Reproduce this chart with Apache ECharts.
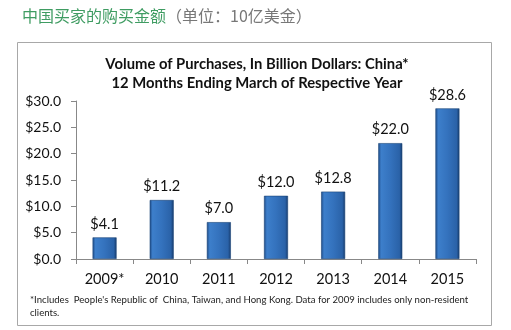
<!DOCTYPE html>
<html>
<head>
<meta charset="utf-8">
<script src="https://cdn.jsdelivr.net/npm/echarts@6/dist/echarts.min.js"></script>
<style>
  html, body { margin: 0; padding: 0; background: #fff; }
  #chart { width: 511px; height: 330px; }
</style>
</head>
<body>
<div id="chart"></div>
<script>
// Chinese buyers' purchase volume, billions of US dollars
const years = ['2009*', '2010', '2011', '2012', '2013', '2014', '2015'];
const volumes = [4.1, 11.2, 7.0, 12.0, 12.8, 22.0, 28.6];
const yTicks = { min: 0, max: 30, interval: 5 };

const chart = echarts.init(document.getElementById('chart'), null, { renderer: 'canvas' });

const font = 'Lato, "Open Sans", "Liberation Sans", sans-serif';
const cjk = '"Noto Sans CJK SC", sans-serif';

const barFill = new echarts.graphic.LinearGradient(0, 0, 1, 0, [
  { offset: 0, color: '#1d4a86' },
  { offset: 0.12, color: '#3d7fcb' },
  { offset: 0.5, color: '#3472bd' },
  { offset: 0.88, color: '#2a62a8' },
  { offset: 1, color: '#163a6b' }
]);

chart.setOption({
  backgroundColor: '#ffffff',
  animation: false,
  title: {
    text: 'Volume of Purchases, In Billion Dollars: China*\n12 Months Ending March of Respective Year',
    left: 252,
    top: 50,
    textAlign: 'center',
    textStyle: { fontFamily: font, fontWeight: 'bold', fontSize: 14.8, lineHeight: 19, color: '#111' }
  },
  grid: { left: 76, right: 35, top: 101, bottom: 71 },
  xAxis: {
    type: 'category',
    data: years,
    axisLine: { lineStyle: { color: '#888', width: 1 } },
    axisTick: { show: true, length: 5, inside: false, lineStyle: { color: '#888' } },
    axisLabel: { fontFamily: font, fontSize: 14.5, color: '#111', margin: 13 }
  },
  yAxis: {
    type: 'value',
    min: yTicks.min,
    max: yTicks.max,
    interval: yTicks.interval,
    axisLine: { show: true, lineStyle: { color: '#888', width: 1 } },
    axisTick: { show: true, length: 5, lineStyle: { color: '#888' } },
    splitLine: { show: false },
    axisLabel: {
      fontFamily: font, fontSize: 14, color: '#111', margin: 15,
      formatter: v => '$' + v.toFixed(1)
    }
  },
  series: [{
    type: 'bar',
    data: volumes,
    barWidth: 24,
    itemStyle: { color: barFill, borderColor: '#1a4377', borderWidth: 0.6 },
    label: {
      show: true,
      position: 'top',
      distance: 6,
      fontFamily: font,
      fontSize: 14.5,
      color: '#111',
      formatter: p => '$' + p.value.toFixed(1)
    }
  }],
  graphic: [
    {
      type: 'rect',
      shape: { x: 17.5, y: 42.5, width: 474, height: 283 },
      style: { fill: 'none', stroke: '#a8a8a8', lineWidth: 1 },
      z: -1
    },
    {
      type: 'text',
      left: 22, top: 8,
      style: {
        text: '{g|中国买家的购买金额}{s|（单位：10亿美金）}',
        rich: {
          g: { fontFamily: cjk, fontSize: 16, fill: '#3f9c62' },
          s: { fontFamily: cjk, fontSize: 16, fill: '#777777' }
        }
      }
    },
    {
      type: 'text',
      left: 30, top: 293,
      style: {
        text: "*Includes  People's Republic of  China, Taiwan, and Hong Kong. Data for 2009 includes only non-resident\nclients.",
        fontFamily: font, fontSize: 9.6, lineHeight: 13, fill: '#222'
      }
    }
  ]
});
</script>
</body>
</html>
